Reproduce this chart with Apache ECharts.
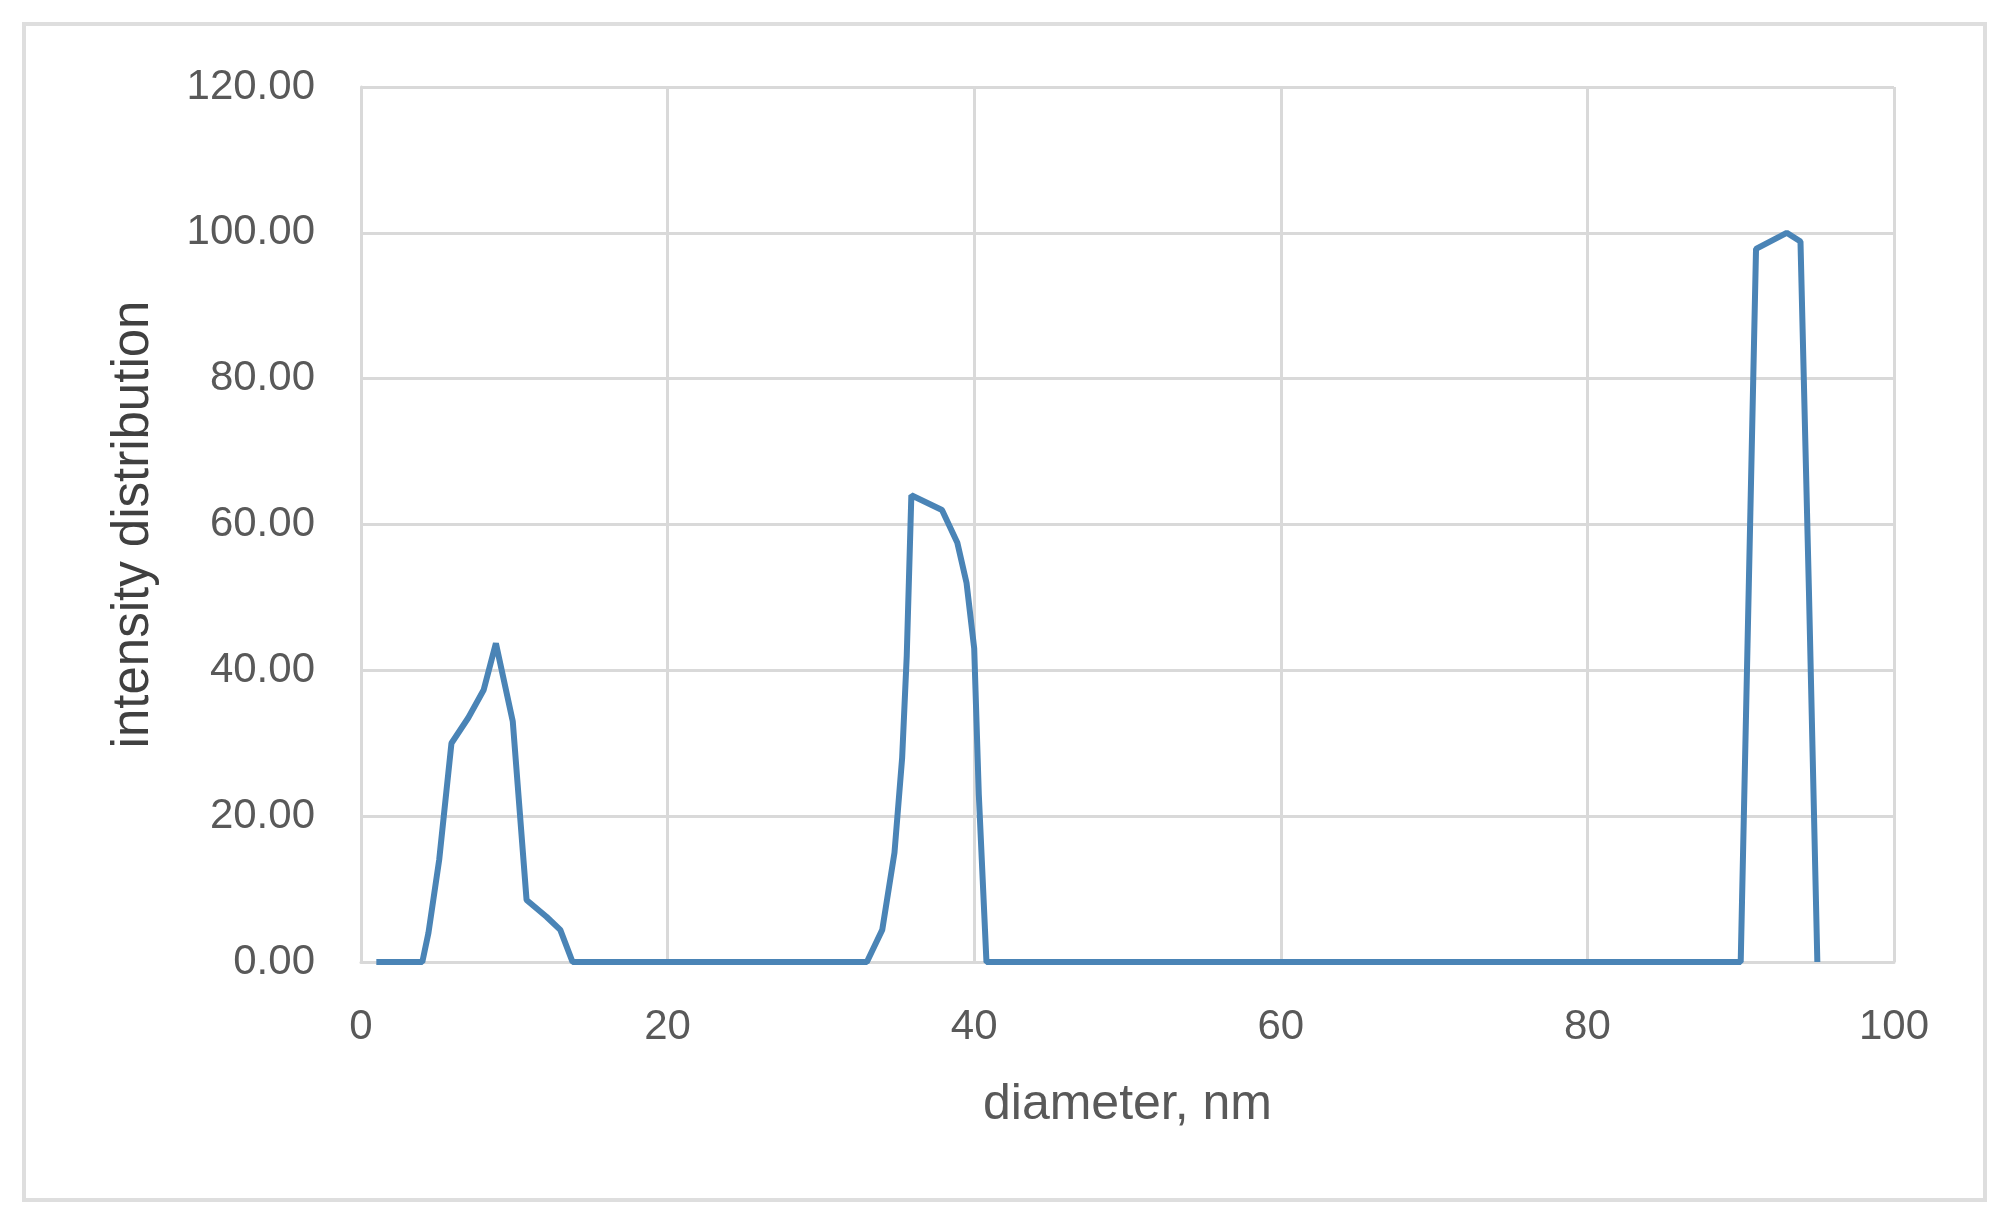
<!DOCTYPE html>
<html>
<head>
<meta charset="utf-8">
<script src="https://cdn.jsdelivr.net/npm/echarts@6/dist/echarts.min.js"></script>
<style>
  html, body { margin: 0; padding: 0; background: #fff; }
  #chart { width: 2016px; height: 1225px; }
</style>
</head>
<body>
<div id="chart"></div>
<script>
// values
const diameter = [1, 4, 4.4, 5.1, 5.9, 7, 8, 8.8, 9.9, 10.8, 12.1, 13, 13.8, 33, 34, 34.8, 35.3, 35.6, 35.9, 37.9, 38.9, 39.5, 40, 40.3, 40.8, 90, 91, 93, 93.9, 94.45, 95];
const intensity = [0, 0, 4, 14, 30, 33.5, 37.3, 43.7, 33, 8.5, 6.2, 4.4, 0, 0, 4.4, 15, 28, 42, 64, 62, 57.5, 52, 43, 23, 0, 0, 97.8, 100, 98.8, 51, 0];
const xTicks = [0, 20, 40, 60, 80, 100];
const yTicks = [0, 20, 40, 60, 80, 100, 120];

const points = diameter.map((d, i) => [d, intensity[i]]);

const chart = echarts.init(document.getElementById('chart'), null, { renderer: 'canvas' });

const gridColor = '#d9d9d9';
const labelColor = '#595959';
const fontFam = '"Liberation Sans", Arial, sans-serif';

chart.setOption({
  animation: false,
  backgroundColor: '#fff',
  // outer chart frame
  graphic: [{
    type: 'rect',
    shape: { x: 24, y: 24, width: 1961, height: 1176 },
    style: { fill: 'none', stroke: '#dedede', lineWidth: 4 },
    silent: true
  }],
  grid: { left: 361, right: 122, top: 87, bottom: 263 },
  xAxis: {
    type: 'value',
    min: xTicks[0],
    max: xTicks[xTicks.length - 1],
    interval: 20,
    name: 'diameter, nm',
    nameLocation: 'middle',
    nameGap: 118,
    nameTextStyle: { fontSize: 50, color: labelColor, fontFamily: fontFam },
    axisLine: { show: true, lineStyle: { color: gridColor, width: 3 } },
    axisTick: { show: false },
    axisLabel: { fontSize: 42, color: labelColor, fontFamily: fontFam, margin: 44 },
    splitLine: { show: true, lineStyle: { color: gridColor, width: 3 } }
  },
  yAxis: {
    type: 'value',
    min: yTicks[0],
    max: yTicks[yTicks.length - 1],
    interval: 20,
    name: 'intensity distribution',
    nameLocation: 'middle',
    nameGap: 202,
    nameTextStyle: { fontSize: 51, color: '#404040', fontFamily: fontFam },
    axisLine: { show: true, lineStyle: { color: gridColor, width: 3 } },
    axisTick: { show: false },
    axisLabel: {
      fontSize: 42, color: labelColor, fontFamily: fontFam, margin: 46,
      formatter: v => v.toFixed(2)
    },
    splitLine: { show: true, lineStyle: { color: gridColor, width: 3 } }
  },
  series: [{
    type: 'line',
    data: points,
    showSymbol: false,
    smooth: false,
    lineStyle: { color: '#4a84b6', width: 6 },
    itemStyle: { color: '#4a84b6' }
  }]
});
</script>
</body>
</html>
